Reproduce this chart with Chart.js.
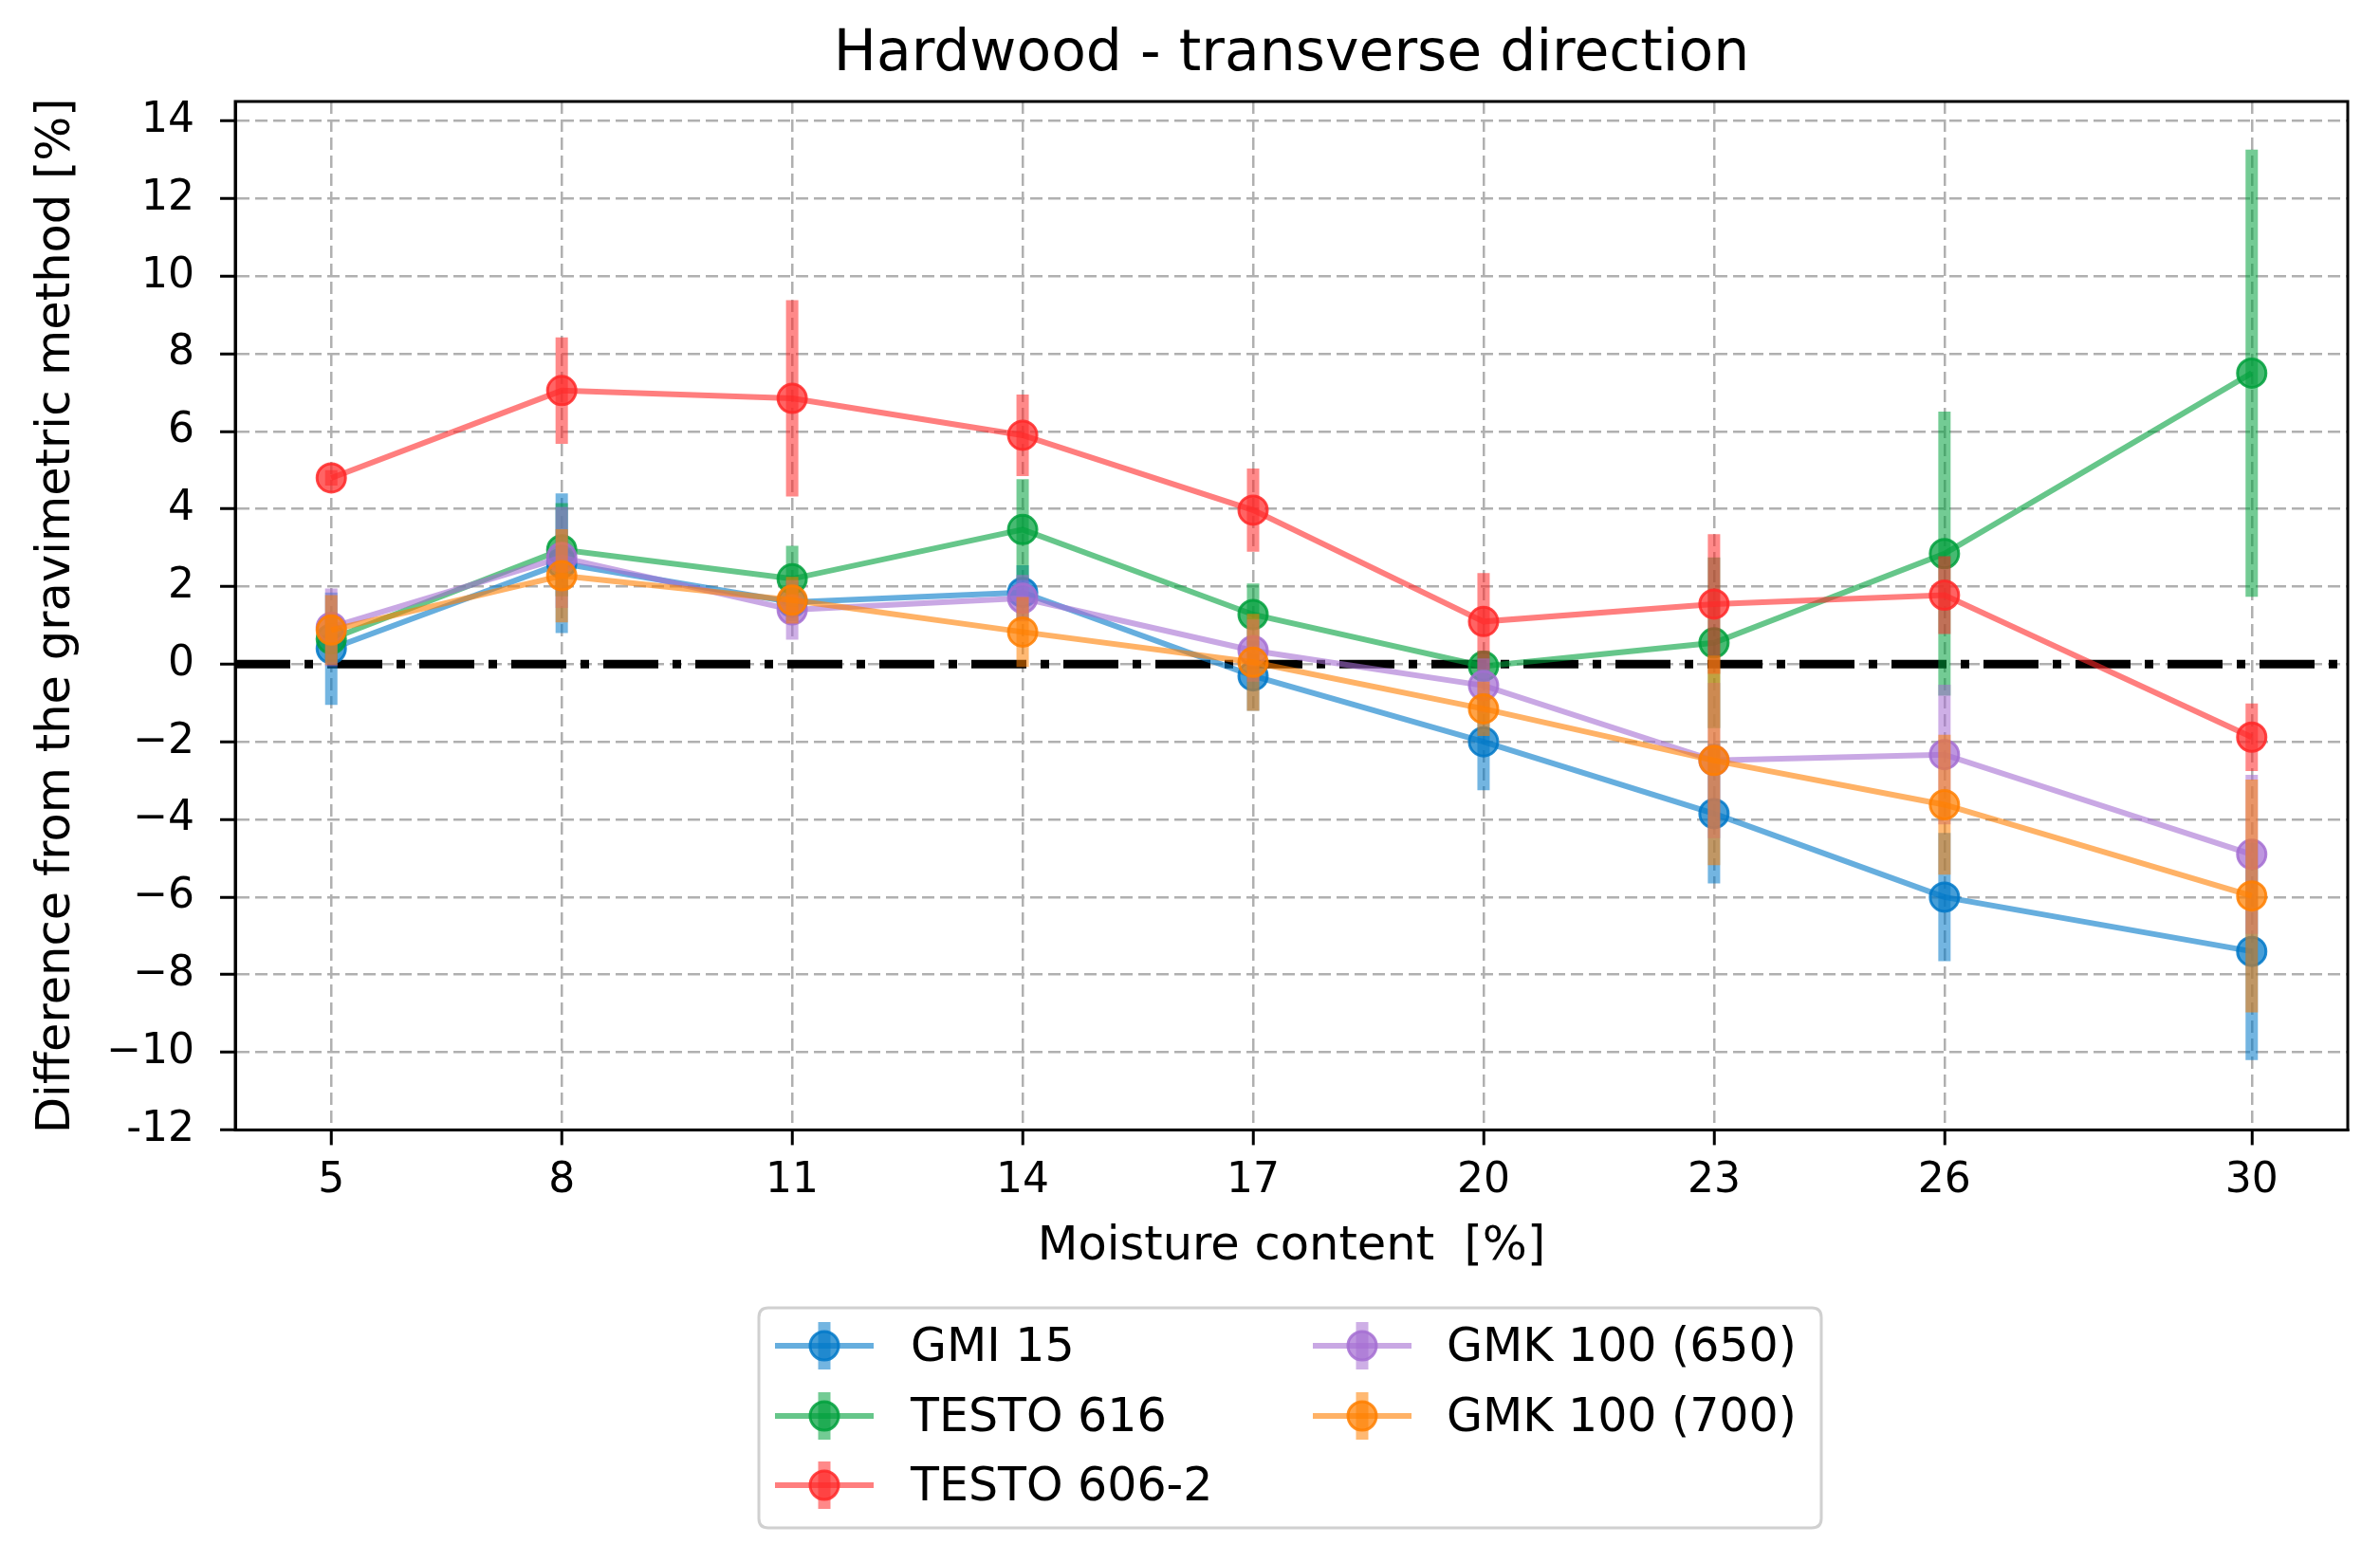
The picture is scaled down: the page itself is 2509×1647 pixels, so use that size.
<!DOCTYPE html>
<html>
<head>
<meta charset="utf-8">
<script src="https://cdn.jsdelivr.net/npm/chart.js@4.4.1/dist/chart.umd.min.js"></script>
<style>
  html, body { margin: 0; padding: 0; background: #ffffff; }
  #wrap { width: 2509px; height: 1647px; position: relative; }
  canvas { display: block; }
</style>
</head>
<body>
<div id="wrap"><canvas id="c" width="2509" height="1647"></canvas></div>
<script>
// ---------- data ----------
const xValues = [5, 8, 11, 14, 17, 20, 23, 26, 30];
const xTickValues = [5, 8, 11, 14, 17, 20, 23, 26, 30];
const yTickValues = [-12, -10, -8, -6, -4, -2, 0, 2, 4, 6, 8, 10, 12, 14];
const yTickLabels = ['-12', '\u221210', '\u22128', '\u22126', '\u22124', '\u22122', '0', '2', '4', '6', '8', '10', '12', '14'];
const seriesNames = ['GMI 15', 'TESTO 616', 'TESTO 606-2', 'GMK 100 (650)', 'GMK 100 (700)'];

const gmi15      = [0.4, 2.6, 1.6, 1.85, -0.3, -2.0, -3.85, -6.0, -7.4];
const gmi15Err   = [1.45, 1.8, 0.5, 0.7, 0.9, 1.25, 1.8, 1.65, 2.8];
const testo616    = [0.65, 2.95, 2.2, 3.47, 1.28, -0.05, 0.55, 2.85, 7.5];
const testo616Err = [0.6, 1.2, 0.85, 1.3, 0.8, 0.4, 2.2, 3.66, 5.76];
const testo6062    = [4.8, 7.05, 6.85, 5.9, 3.97, 1.1, 1.55, 1.78, -1.88];
const testo6062Err = [0.2, 1.37, 2.53, 1.05, 1.07, 1.25, 1.8, 1.0, 0.87];
const gmk650    = [0.95, 2.75, 1.4, 1.7, 0.35, -0.55, -2.48, -2.33, -4.9];
const gmk650Err = [1.0, 1.3, 0.77, 0.6, 0.8, 0.7, 2.0, 1.8, 2.05];
const gmk700    = [0.88, 2.28, 1.65, 0.83, 0.05, -1.15, -2.48, -3.62, -5.97];
const gmk700Err = [0.9, 1.2, 0.6, 0.9, 1.25, 0.7, 2.7, 1.8, 3.0];

const seriesValues = [gmi15, testo616, testo6062, gmk650, gmk700];
const seriesErrors = [gmi15Err, testo616Err, testo6062Err, gmk650Err, gmk700Err];

// ---------- styles ----------
const baseRGB = ['0,120,200', '0,160,60', '255,40,40', '165,110,210', '255,127,0'];
const rgba = (c, a) => 'rgba(' + c + ',' + a + ')';

Chart.defaults.font.family = "'DejaVu Sans', sans-serif";
Chart.defaults.color = '#000000';

const datasets = seriesNames.map((name, i) => ({
  label: name,
  data: xValues.map((x, k) => ({ x: x, y: seriesValues[i][k] })),
  errors: seriesErrors[i],
  errorColor: rgba(baseRGB[i], 0.55),
  borderColor: rgba(baseRGB[i], 0.6),
  backgroundColor: rgba(baseRGB[i], 0.75),
  borderWidth: 6,
  pointRadius: 15,
  pointBorderWidth: 3,
  pointBackgroundColor: rgba(baseRGB[i], 0.72),
  pointBorderColor: rgba(baseRGB[i], 0.85),
  pointHoverRadius: 15,
  tension: 0,
  fill: false,
  order: -i
}));

// ---------- plugins ----------
const errorBarPlugin = {
  id: 'errorBars',
  beforeDatasetDraw(chart, args) {
    const ds = chart.data.datasets[args.index];
    if (!ds.errors) return;
    const { ctx, chartArea, scales } = chart;
    const xs = scales.x, ys = scales.y;
    ctx.save();
    ctx.beginPath();
    ctx.rect(chartArea.left, chartArea.top, chartArea.right - chartArea.left, chartArea.bottom - chartArea.top);
    ctx.clip();
    ctx.strokeStyle = ds.errorColor;
    ctx.lineWidth = 13;
    ctx.lineCap = 'butt';
    ds.data.forEach((p, k) => {
      const px = xs.getPixelForValue(p.x);
      ctx.beginPath();
      ctx.moveTo(px, ys.getPixelForValue(p.y - ds.errors[k]));
      ctx.lineTo(px, ys.getPixelForValue(p.y + ds.errors[k]));
      ctx.stroke();
    });
    ctx.restore();
  }
};

const zeroLinePlugin = {
  id: 'zeroLine',
  beforeDatasetsDraw(chart) {
    const { ctx, chartArea, scales } = chart;
    const y0 = scales.y.getPixelForValue(0);
    ctx.save();
    ctx.strokeStyle = '#000000';
    ctx.lineWidth = 9;
    ctx.setLineDash([58, 15, 9, 15]);
    ctx.beginPath();
    ctx.moveTo(chartArea.left, y0);
    ctx.lineTo(chartArea.right, y0);
    ctx.stroke();
    ctx.restore();
  }
};

const framePlugin = {
  id: 'frame',
  afterDatasetsDraw(chart) {
    const { ctx, chartArea } = chart;
    ctx.save();
    ctx.strokeStyle = '#000000';
    ctx.lineWidth = 3;
    ctx.strokeRect(chartArea.left, chartArea.top, chartArea.right - chartArea.left, chartArea.bottom - chartArea.top);
    ctx.restore();
  }
};

const legendBoxPlugin = {
  id: 'legendBox',
  afterDraw(chart, args, opts) {
    const { ctx } = chart;
    const b = opts.box;
    ctx.save();
    const r = 10;
    ctx.beginPath();
    ctx.moveTo(b.left + r, b.top);
    ctx.lineTo(b.right - r, b.top);
    ctx.quadraticCurveTo(b.right, b.top, b.right, b.top + r);
    ctx.lineTo(b.right, b.bottom - r);
    ctx.quadraticCurveTo(b.right, b.bottom, b.right - r, b.bottom);
    ctx.lineTo(b.left + r, b.bottom);
    ctx.quadraticCurveTo(b.left, b.bottom, b.left, b.bottom - r);
    ctx.lineTo(b.left, b.top + r);
    ctx.quadraticCurveTo(b.left, b.top, b.left + r, b.top);
    ctx.closePath();
    ctx.fillStyle = '#ffffff';
    ctx.fill();
    ctx.strokeStyle = '#d0d0d0';
    ctx.lineWidth = 3;
    ctx.stroke();

    chart.data.datasets.forEach((ds, i) => {
      const col = Math.floor(i / opts.rows);
      const row = i % opts.rows;
      const cx = opts.colX[col];
      const cy = opts.rowY[row];
      ctx.strokeStyle = ds.borderColor;
      ctx.lineWidth = 6;
      ctx.beginPath();
      ctx.moveTo(cx - opts.lineHalf, cy);
      ctx.lineTo(cx + opts.lineHalf, cy);
      ctx.stroke();
      ctx.strokeStyle = ds.errorColor;
      ctx.lineWidth = 13;
      ctx.beginPath();
      ctx.moveTo(cx, cy - 25);
      ctx.lineTo(cx, cy + 25);
      ctx.stroke();
      ctx.beginPath();
      ctx.arc(cx, cy, 15, 0, Math.PI * 2);
      ctx.fillStyle = ds.pointBackgroundColor;
      ctx.fill();
      ctx.lineWidth = 3;
      ctx.strokeStyle = ds.pointBorderColor;
      ctx.stroke();
      ctx.fillStyle = '#000000';
      ctx.font = "49px 'DejaVu Sans', sans-serif";
      ctx.textAlign = 'left';
      ctx.textBaseline = 'middle';
      ctx.fillText(ds.label, opts.textX[col], cy + 3);
    });
    ctx.restore();
  }
};

// ---------- chart ----------
new Chart(document.getElementById('c'), {
  type: 'line',
  data: { datasets: datasets },
  plugins: [errorBarPlugin, zeroLinePlugin, framePlugin, legendBoxPlugin],
  options: {
    responsive: false,
    devicePixelRatio: 1,
    animation: false,
    layout: { padding: { top: 0, left: 0, right: 34, bottom: 302.6 } },
    plugins: {
      legend: { display: false },
      tooltip: { enabled: false },
      title: {
        display: true,
        text: 'Hardwood - transverse direction',
        fullSize: false,
        color: '#000000',
        font: { size: 60, weight: 'normal' },
        padding: { top: 22, bottom: 13 }
      },
      legendBox: {
        box: { left: 800, right: 1920, top: 1379, bottom: 1611 },
        rows: 3,
        colX: [869, 1436],
        textX: [960, 1525],
        rowY: [1419, 1493, 1566],
        lineHalf: 52
      }
    },
    scales: {
      x: {
        type: 'linear',
        min: 3.75,
        max: 31.25,
        afterBuildTicks: (s) => { s.ticks = xTickValues.map(v => ({ value: v })); },
        afterFit: (s) => { s.height = 153; },
        ticks: {
          autoSkip: false,
          maxRotation: 0,
          padding: 12,
          color: '#000000',
          font: { size: 44 },
          callback: (v) => String(v)
        },
        grid: {
          color: '#b0b0b0',
          lineWidth: 2.5,
          drawTicks: true,
          tickLength: 16,
          tickColor: '#000000',
          tickWidth: 3
        },
        border: { display: true, color: '#000000', width: 3, dash: [13, 6] },
        title: {
          display: true,
          text: 'Moisture content  [%]',
          color: '#000000',
          font: { size: 49.5 },
          padding: { top: 0, bottom: 0 }
        }
      },
      y: {
        type: 'linear',
        min: -12,
        max: 14.5,
        afterBuildTicks: (s) => { s.ticks = yTickValues.map(v => ({ value: v })); },
        afterFit: (s) => { s.width = 248; },
        ticks: {
          autoSkip: false,
          padding: 27,
          color: '#000000',
          font: { size: 44 },
          callback: (v) => { const k = yTickValues.indexOf(v); return k >= 0 ? yTickLabels[k] : ''; }
        },
        grid: {
          color: '#b0b0b0',
          lineWidth: 2.5,
          drawTicks: true,
          tickLength: 16,
          tickColor: '#000000',
          tickWidth: 3
        },
        border: { display: true, color: '#000000', width: 3, dash: [13, 6] },
        title: {
          display: true,
          text: 'Difference from the gravimetric method [%]',
          color: '#000000',
          font: { size: 49.5 },
          padding: { top: 30, bottom: 0 }
        }
      }
    }
  }
});
</script>
</body>
</html>
